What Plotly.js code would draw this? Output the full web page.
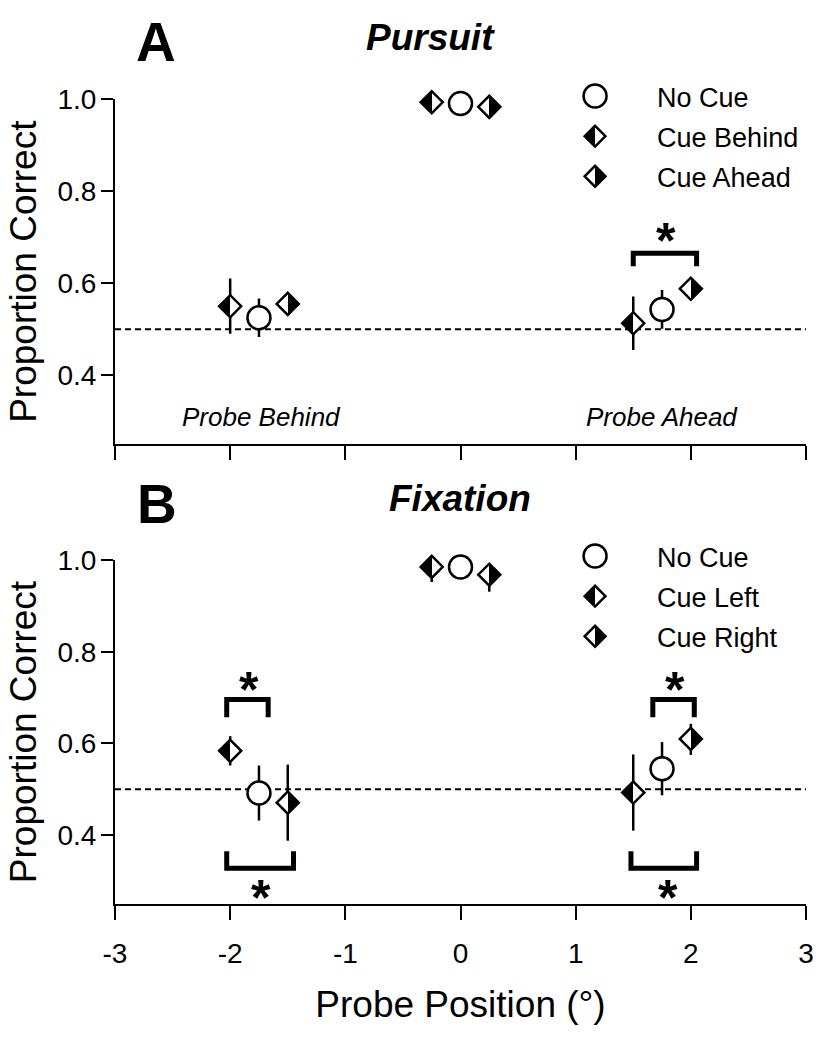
<!DOCTYPE html>
<html><head><meta charset="utf-8">
<script src="https://cdn.plot.ly/plotly-3.0.1.min.js"></script>
<style>html,body{margin:0;padding:0;background:#fff}</style>
</head><body><div id="chart" style="width:832px;height:1050px"></div>
<script>
const FONT = 'Liberation Sans, Arial, sans-serif';

// ---- data ----
const xNoCue = [-1.75, 0, 1.75];
const xCueFirst = [-2, -0.25, 1.5];
const xCueSecond = [-1.5, 0.25, 2];
const xTicks = [-3, -2, -1, 0, 1, 2, 3];
const yTicks = [0.4, 0.6, 0.8, 1.0];
const chanceX = [-3, 3];
const chanceY = [0.5, 0.5];

const pursuitNames = ['No Cue', 'Cue Behind', 'Cue Ahead'];
const pursuitNoCue = [0.525, 0.99, 0.543];
const pursuitNoCueErr = [0.042, 0.006, 0.042];
const pursuitBehind = [0.55, 0.993, 0.513];
const pursuitBehindErr = [0.06, 0.006, 0.058];
const pursuitAhead = [0.555, 0.983, 0.588];
const pursuitAheadErr = [0.01, 0.006, 0.012];

const fixationNames = ['No Cue', 'Cue Left', 'Cue Right'];
const fixationNoCue = [0.492, 0.985, 0.545];
const fixationNoCueErr = [0.06, 0.006, 0.058];
const fixationLeft = [0.584, 0.985, 0.493];
const fixationLeftErrPlus = [0.032, 0.012, 0.083];
const fixationLeftErrMinus = [0.032, 0.033, 0.083];
const fixationRight = [0.471, 0.968, 0.61];
const fixationRightErrPlus = [0.083, 0.02, 0.033];
const fixationRightErrMinus = [0.083, 0.037, 0.035];

// significance brackets: [x0, x1, yLegEnd, yBar]
const bracketsA = [[1.5, 2.05, 0.637, 0.665]];
const starsA = [[1.78, 0.715]];
const bracketsB = [[-2.03, -1.67, 0.657, 0.696], [1.67, 2.03, 0.657, 0.696],
                   [-2.03, -1.45, 0.365, 0.328], [1.48, 2.05, 0.365, 0.328]];
const starsB = [[-1.84, 0.74], [1.86, 0.74], [-1.73, 0.287], [1.8, 0.287]];

// ---- traces ----
function errY(plus, minus) {
  return {type: 'data', array: plus, arrayminus: minus || plus, symmetric: false,
          visible: true, color: 'black', thickness: 2.5, width: 0};
}
function circleTrace(name, x, y, ep, em, xa, ya, leg, uid) {
  return {type: 'scatter', mode: 'markers', name, x, y, xaxis: xa, yaxis: ya, legend: leg, uid,
    legendgroup: uid, cliponaxis: false, error_y: errY(ep, em),
    marker: {symbol: 'circle', size: 23, color: 'white', line: {color: 'black', width: 2.5}}};
}
function halfTrace(name, x, y, ep, em, xa, ya, leg, uid) {
  return {type: 'scatter', mode: 'markers', name, x, y, xaxis: xa, yaxis: ya, legend: leg, uid,
    legendgroup: uid, cliponaxis: false, error_y: errY(ep, em),
    marker: {symbol: 'diamond', size: 17, color: 'white', line: {color: 'black', width: 2.5},
             gradient: {type: 'horizontal', color: 'black'}}};
}
function bracketTrace(list, xa, ya) {
  const x = [], y = [];
  list.forEach(b => { x.push(b[0], b[0], b[1], b[1], null); y.push(b[2], b[3], b[3], b[2], null); });
  return {type: 'scatter', mode: 'lines', x, y, xaxis: xa, yaxis: ya, showlegend: false,
          cliponaxis: false, hoverinfo: 'skip', line: {color: 'black', width: 5}};
}
function chanceTrace(xa, ya) {
  return {type: 'scatter', mode: 'lines', x: chanceX, y: chanceY, xaxis: xa, yaxis: ya,
          showlegend: false, hoverinfo: 'skip', line: {color: 'black', width: 2, dash: '6px,4px'}};
}

const data = [
  chanceTrace('x', 'y'),
  chanceTrace('x2', 'y2'),
  bracketTrace(bracketsA, 'x', 'y'),
  bracketTrace(bracketsB, 'x2', 'y2'),
  circleTrace(pursuitNames[0], xNoCue, pursuitNoCue, pursuitNoCueErr, null, 'x', 'y', 'legend', 'nA'),
  halfTrace(pursuitNames[1], xCueFirst, pursuitBehind, pursuitBehindErr, null, 'x', 'y', 'legend', 'leftA'),
  halfTrace(pursuitNames[2], xCueSecond, pursuitAhead, pursuitAheadErr, null, 'x', 'y', 'legend', 'rightA'),
  circleTrace(fixationNames[0], xNoCue, fixationNoCue, fixationNoCueErr, null, 'x2', 'y2', 'legend2', 'nB'),
  halfTrace(fixationNames[1], xCueFirst, fixationLeft, fixationLeftErrPlus, fixationLeftErrMinus, 'x2', 'y2', 'legend2', 'leftB'),
  halfTrace(fixationNames[2], xCueSecond, fixationRight, fixationRightErrPlus, fixationRightErrMinus, 'x2', 'y2', 'legend2', 'rightB')
];

// ---- layout ----
const axisBase = {showline: true, linewidth: 2, linecolor: 'black', ticks: 'outside',
  tickwidth: 2, tickcolor: 'black', zeroline: false, showgrid: false, fixedrange: true,
  tickfont: {family: FONT, size: 28, color: 'black'}};
const xBase = Object.assign({}, axisBase, {range: [-3, 3], tickvals: xTicks, ticktext: xTicks.map(String), ticklen: 14});
const yBase = Object.assign({}, axisBase, {range: [0.25, 1.0], tickvals: yTicks, tickformat: '.1f', ticklen: 12,
  ticklabelstandoff: -1,
  title: {text: 'Proportion Correct', font: {family: FONT, size: 37, color: 'black'}, standoff: 10}});

const starAnn = (s, xr, yr) => ({x: s[0], y: s[1], xref: xr, yref: yr, text: '*', showarrow: false,
  font: {family: FONT, size: 50, color: 'black', weight: 'bold'}, yshift: -11});
const textAnn = (text, x, y, size, style, weight) => ({x, y, xref: 'paper', yref: 'paper', text, showarrow: false,
  xanchor: 'center', yanchor: 'middle', font: {family: FONT, size, color: 'black', style, weight}});

const layout = {
  width: 832, height: 1050,
  margin: {l: 115, r: 26, t: 99, b: 146},
  paper_bgcolor: 'white', plot_bgcolor: 'white',
  font: {family: FONT, color: 'black'},
  xaxis: Object.assign({}, xBase, {domain: [0, 1], anchor: 'y', showticklabels: false}),
  yaxis: Object.assign({}, yBase, {domain: [0.571, 1], anchor: 'x'}),
  xaxis2: Object.assign({}, xBase, {domain: [0, 1], anchor: 'y2', showticklabels: true, ticklabelstandoff: 9,
    title: {text: 'Probe Position (°)', font: {family: FONT, size: 37, color: 'black'}, standoff: 24}}),
  yaxis2: Object.assign({}, yBase, {domain: [0, 0.4273], anchor: 'x2'}),
  legend: {x: 0.605, y: 1.0335, xanchor: 'left', yanchor: 'top', itemwidth: 114, tracegroupgap: 2,
    bgcolor: 'rgba(0,0,0,0)', font: {family: FONT, size: 27, color: 'black'}},
  legend2: {x: 0.605, y: 0.4621, xanchor: 'left', yanchor: 'top', itemwidth: 114, tracegroupgap: 2,
    bgcolor: 'rgba(0,0,0,0)', font: {family: FONT, size: 27, color: 'black'}},
  annotations: [
    textAnn('A', 0.0593, 1.0708, 55, 'normal', 'bold'),
    textAnn('Pursuit', 0.4559, 1.077, 37, 'italic', 'bold'),
    textAnn('B', 0.0608, 0.4969, 55, 'normal', 'bold'),
    textAnn('Fixation', 0.4993, 0.5037, 37, 'italic', 'bold'),
    {x: -1.73, y: 0.309, xref: 'x', yref: 'y', text: 'Probe Behind', showarrow: false,
     font: {family: FONT, size: 26, color: 'black', style: 'italic'}},
    {x: 1.75, y: 0.309, xref: 'x', yref: 'y', text: 'Probe Ahead', showarrow: false,
     font: {family: FONT, size: 26, color: 'black', style: 'italic'}}
  ].concat(starsA.map(s => starAnn(s, 'x', 'y')), starsB.map(s => starAnn(s, 'x2', 'y2')))
};

// half-filled diamonds: turn Plotly's horizontal marker gradient into a hard split,
// and draw the legend circles at the same size as in the plot (legend caps sizes at 16)
const NS = 'http://www.w3.org/2000/svg';
const R = 11.5;
const CIRC = 'M' + R + ',0A' + R + ',' + R + ' 0 1,1 0,-' + R + 'A' + R + ',' + R + ' 0 0,1 ' + R + ',0Z';
function restyleMarks() {
  document.querySelectorAll('linearGradient').forEach(g => {
    const id = g.id || '';
    const leftBlack = /-left[AB]$/.test(id);
    const rightBlack = /-right[AB]$/.test(id);
    if (!leftBlack && !rightBlack) return;
    if (g.getAttribute('data-split') === '1' && g.childNodes.length === 4) return;
    g.setAttribute('data-split', '1');
    g.setAttribute('x1', '0'); g.setAttribute('y1', '0');
    g.setAttribute('x2', '1'); g.setAttribute('y2', '0');
    g.setAttribute('gradientUnits', 'objectBoundingBox');
    g.removeAttribute('gradientTransform');
    while (g.firstChild) g.removeChild(g.firstChild);
    const a = leftBlack ? '#000' : '#fff', b = leftBlack ? '#fff' : '#000';
    [['0%', a], ['50%', a], ['50%', b], ['100%', b]].forEach(s => {
      const st = document.createElementNS(NS, 'stop');
      st.setAttribute('offset', s[0]); st.setAttribute('stop-color', s[1]);
      g.appendChild(st);
    });
  });
  document.querySelectorAll('g.legendpoints path.scatterpts').forEach(p => {
    const d = p.getAttribute('d') || '';
    if (d !== CIRC && /^M[\d.]+,0A/.test(d)) p.setAttribute('d', CIRC);
  });
}
const observer = new MutationObserver(restyleMarks);
observer.observe(document.getElementById('chart'), {childList: true, subtree: true, attributes: true, attributeFilter: ['d']});

Plotly.newPlot('chart', data, layout, {displayModeBar: false, staticPlot: true}).then(gd => {
  restyleMarks();
  requestAnimationFrame(restyleMarks);
});
</script>
</body></html>
